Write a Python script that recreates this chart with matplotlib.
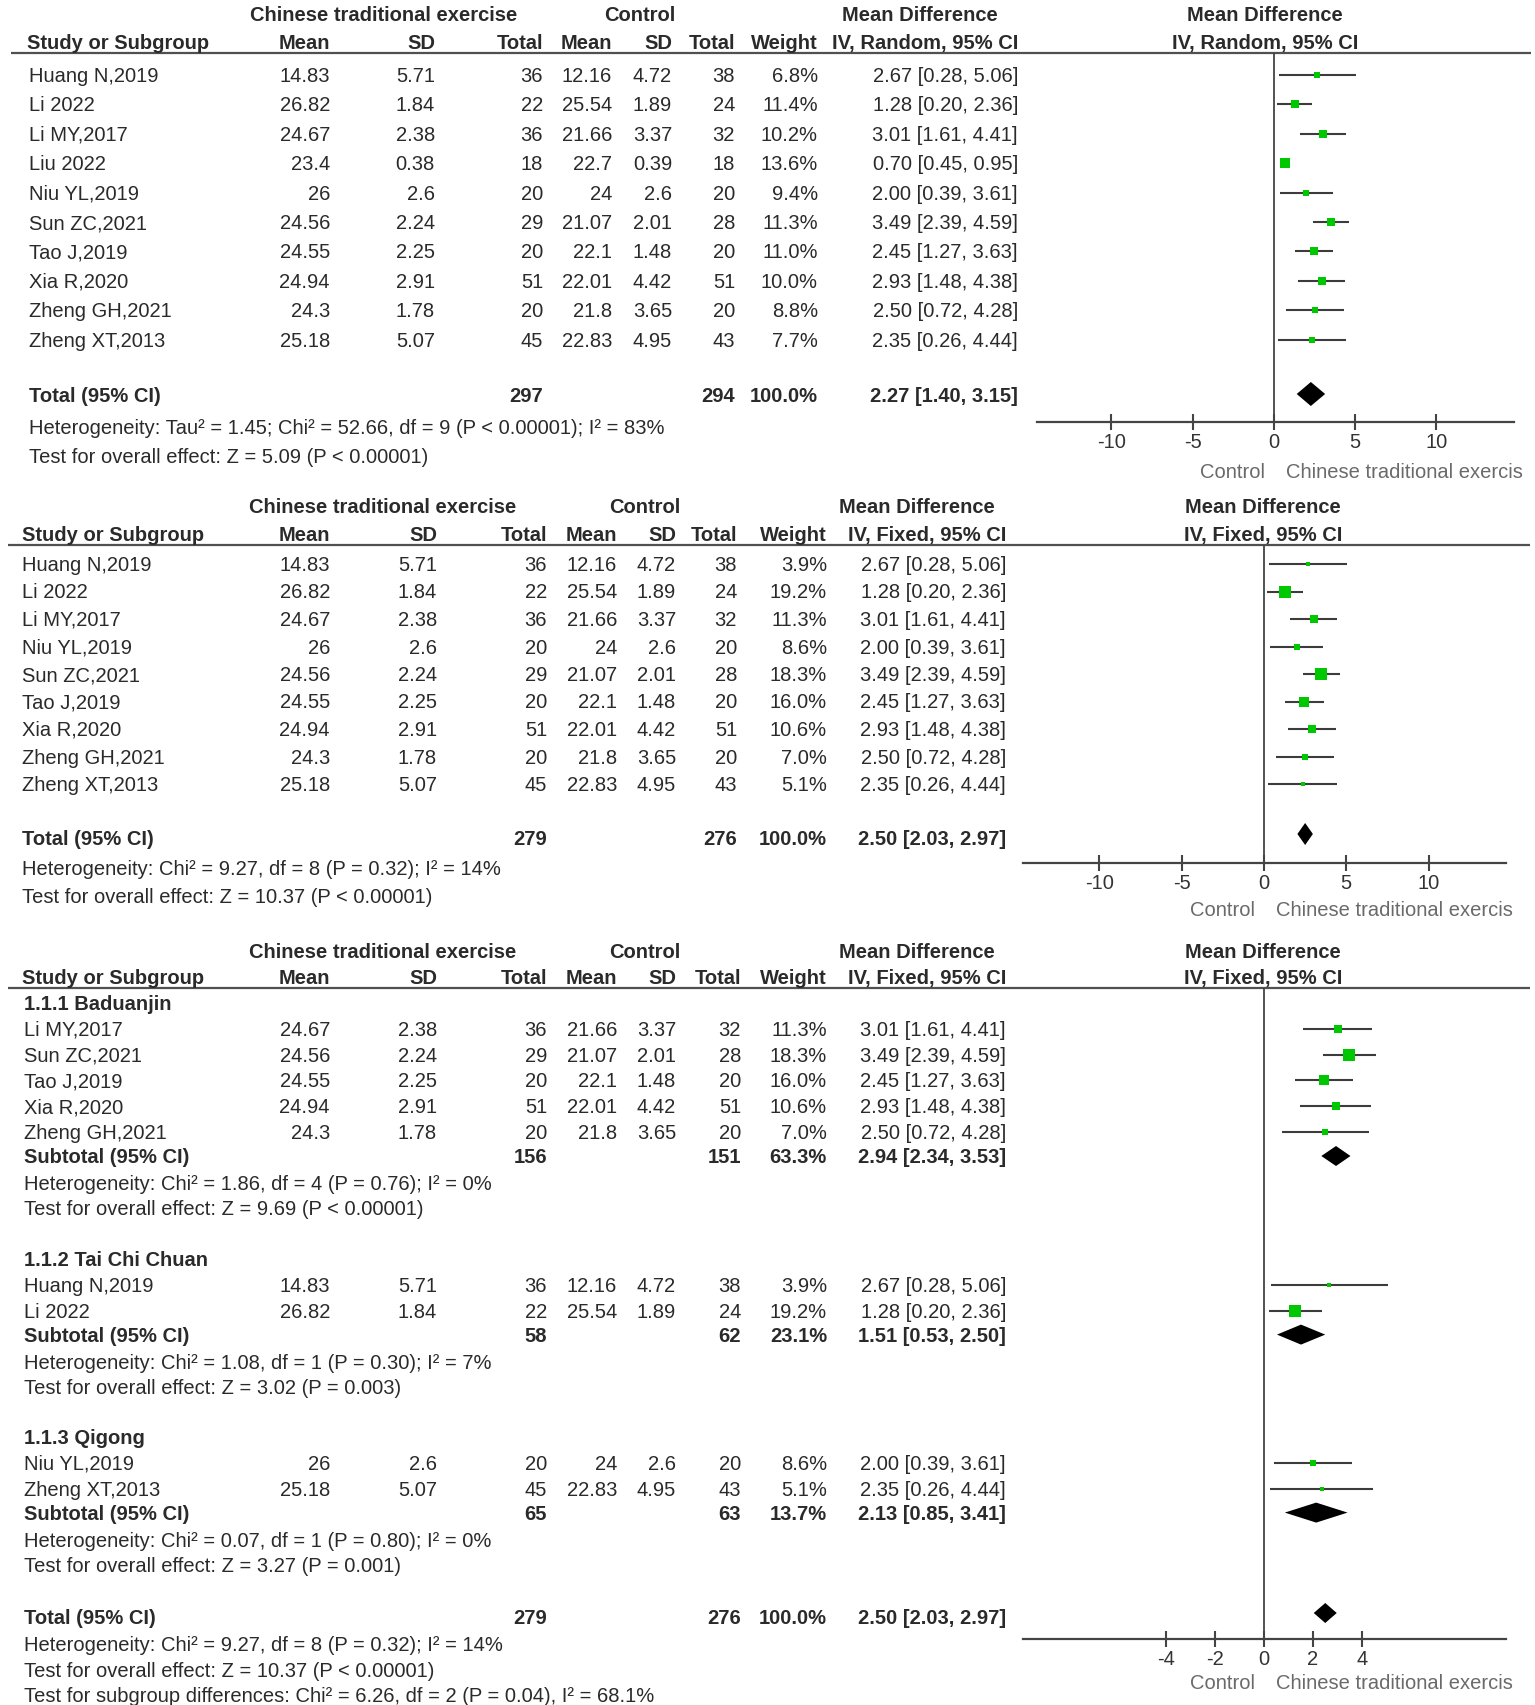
import matplotlib
matplotlib.use("Agg")
import matplotlib.pyplot as plt

plt.rcParams['font.family'] = ['Liberation Sans', 'DejaVu Sans']

# ---------------- data ----------------
studies_all = ["Huang N,2019", "Li 2022", "Li MY,2017", "Liu 2022", "Niu YL,2019",
               "Sun ZC,2021", "Tao J,2019", "Xia R,2020", "Zheng GH,2021", "Zheng XT,2013"]
exp_mean = [14.83, 26.82, 24.67, 23.4, 26, 24.56, 24.55, 24.94, 24.3, 25.18]
exp_sd = [5.71, 1.84, 2.38, 0.38, 2.6, 2.24, 2.25, 2.91, 1.78, 5.07]
exp_n = [36, 22, 36, 18, 20, 29, 20, 51, 20, 45]
ctl_mean = [12.16, 25.54, 21.66, 22.7, 24, 21.07, 22.1, 22.01, 21.8, 22.83]
ctl_sd = [4.72, 1.89, 3.37, 0.39, 2.6, 2.01, 1.48, 4.42, 3.65, 4.95]
ctl_n = [38, 24, 32, 18, 20, 28, 20, 51, 20, 43]
md = [2.67, 1.28, 3.01, 0.70, 2.00, 3.49, 2.45, 2.93, 2.50, 2.35]
md_lo = [0.28, 0.20, 1.61, 0.45, 0.39, 2.39, 1.27, 1.48, 0.72, 0.26]
md_hi = [5.06, 2.36, 4.41, 0.95, 3.61, 4.59, 3.63, 4.38, 4.28, 4.44]
w_random = [6.8, 11.4, 10.2, 13.6, 9.4, 11.3, 11.0, 10.0, 8.8, 7.7]
# fixed-effect weights (Liu 2022 excluded)
w_fixed = {"Huang N,2019": 3.9, "Li 2022": 19.2, "Li MY,2017": 11.3, "Niu YL,2019": 8.6,
           "Sun ZC,2021": 18.3, "Tao J,2019": 16.0, "Xia R,2020": 10.6,
           "Zheng GH,2021": 7.0, "Zheng XT,2013": 5.1}

total1 = dict(n1=297, n2=294, w=100.0, md=2.27, lo=1.40, hi=3.15)
het1 = "Heterogeneity: Tau\u00b2 = 1.45; Chi\u00b2 = 52.66, df = 9 (P < 0.00001); I\u00b2 = 83%"
eff1 = "Test for overall effect: Z = 5.09 (P < 0.00001)"

studies_fixed = ["Huang N,2019", "Li 2022", "Li MY,2017", "Niu YL,2019", "Sun ZC,2021",
                 "Tao J,2019", "Xia R,2020", "Zheng GH,2021", "Zheng XT,2013"]
total2 = dict(n1=279, n2=276, w=100.0, md=2.50, lo=2.03, hi=2.97)
het2 = "Heterogeneity: Chi\u00b2 = 9.27, df = 8 (P = 0.32); I\u00b2 = 14%"
eff2 = "Test for overall effect: Z = 10.37 (P < 0.00001)"

subgroups = ["1.1.1 Baduanjin", "1.1.2 Tai Chi Chuan", "1.1.3 Qigong"]
sub_studies = [["Li MY,2017", "Sun ZC,2021", "Tao J,2019", "Xia R,2020", "Zheng GH,2021"],
               ["Huang N,2019", "Li 2022"],
               ["Niu YL,2019", "Zheng XT,2013"]]
sub_tot = [dict(n1=156, n2=151, w=63.3, md=2.94, lo=2.34, hi=3.53),
           dict(n1=58, n2=62, w=23.1, md=1.51, lo=0.53, hi=2.50),
           dict(n1=65, n2=63, w=13.7, md=2.13, lo=0.85, hi=3.41)]
sub_het = ["Heterogeneity: Chi\u00b2 = 1.86, df = 4 (P = 0.76); I\u00b2 = 0%",
           "Heterogeneity: Chi\u00b2 = 1.08, df = 1 (P = 0.30); I\u00b2 = 7%",
           "Heterogeneity: Chi\u00b2 = 0.07, df = 1 (P = 0.80); I\u00b2 = 0%"]
sub_eff = ["Test for overall effect: Z = 9.69 (P < 0.00001)",
           "Test for overall effect: Z = 3.02 (P = 0.003)",
           "Test for overall effect: Z = 3.27 (P = 0.001)"]
subdiff = "Test for subgroup differences: Chi\u00b2 = 6.26, df = 2 (P = 0.04), I\u00b2 = 68.1%"

ticks_wide = [-10, -5, 0, 5, 10]
ticks_narrow = [-4, -2, 0, 2, 4]
left_label, right_label = "Control", "Chinese traditional exercis"

# ---------------- styles / layout ----------------
W, H = 1535, 1705
fig = plt.figure(figsize=(W / 100, H / 100), dpi=100)
canvas = fig.add_axes([0, 0, 1, 1])
canvas.set_xlim(0, W)
canvas.set_ylim(H, 0)
canvas.axis('off')

FS = 14.5
TXT = '#2a2a2a'
GREEN = '#00c800'
LINE = '#3c3c3c'
CAP = 7  # half cap-height in px, center -> baseline


def t(x, y, s, ha='left', bold=False, color=TXT, size=FS):
    canvas.text(x, y + CAP, s, ha=ha, va='baseline', fontsize=size,
                fontweight='bold' if bold else 'normal', color=color)


def g(v):
    return f"{v:g}"


def ci(d):
    return f"{d['md']:.2f} [{d['lo']:.2f}, {d['hi']:.2f}]"


def header(L, y1, y2, yul, model, ul_x):
    t(L['grp1_c'], y1, "Chinese traditional exercise", ha='center', bold=True)
    t(L['grp2_c'], y1, "Control", ha='center', bold=True)
    t(L['md_c'], y1, "Mean Difference", ha='center', bold=True)
    t(L['forest_c'], y1, "Mean Difference", ha='center', bold=True)
    t(L['hname_x'], y2, "Study or Subgroup", bold=True)
    for key, s in [('mean_r', 'Mean'), ('sd_r', 'SD'), ('tot_r', 'Total'), ('cmean_r', 'Mean'),
                   ('csd_r', 'SD'), ('ctot_r', 'Total'), ('w_r', 'Weight'),
                   ('ci_r', f"IV, {model}, 95% CI")]:
        t(L[key], y2, s, ha='right', bold=True)
    t(L['forest_c'], y2, f"IV, {model}, 95% CI", ha='center', bold=True)
    canvas.plot(ul_x, [yul, yul], color='#505050', lw=1.6, solid_capstyle='butt')


def study_row(L, y, i, weight):
    t(L['name_x'], y, studies_all[i])
    t(L['mean_r'], y, g(exp_mean[i]), ha='right')
    t(L['sd_r'], y, g(exp_sd[i]), ha='right')
    t(L['tot_r'], y, str(exp_n[i]), ha='right')
    t(L['cmean_r'], y, g(ctl_mean[i]), ha='right')
    t(L['csd_r'], y, g(ctl_sd[i]), ha='right')
    t(L['ctot_r'], y, str(ctl_n[i]), ha='right')
    t(L['w_r'], y, f"{weight:.1f}%", ha='right')
    t(L['ci_r'], y, f"{md[i]:.2f} [{md_lo[i]:.2f}, {md_hi[i]:.2f}]", ha='right')


def total_row(L, y, label, d):
    t(L['name_x'], y, label, bold=True)
    t(L['tot_r'], y, str(d['n1']), ha='right', bold=True)
    t(L['ctot_r'], y, str(d['n2']), ha='right', bold=True)
    t(L['w_r'], y, f"{d['w']:.1f}%", ha='right', bold=True)
    t(L['ci_r'], y, ci(d), ha='right', bold=True)


def forest_axes(x0, x1, ytop, yaxis, xlim, ticks, zero_px, lab_y):
    ax = fig.add_axes([x0 / W, 1 - yaxis / H, (x1 - x0) / W, (yaxis - ytop) / H])
    ax.set_xlim(*xlim)
    ax.set_ylim(yaxis, ytop)
    ax.patch.set_alpha(0)
    for s in ['top', 'left', 'right']:
        ax.spines[s].set_visible(False)
    ax.spines['bottom'].set_color('#444444')
    ax.spines['bottom'].set_linewidth(1.6)
    ax.set_yticks([])
    ax.set_xticks(ticks)
    ax.set_xticklabels([g(v) for v in ticks])
    ax.tick_params(axis='x', direction='inout', length=12, width=1.5, color='#444444',
                   labelsize=FS, labelcolor='#333333', pad=2)
    ax.axvline(0, color='#444444', lw=1.3)
    t(zero_px - 9, lab_y, left_label, ha='right', color='#6a6a6a')
    t(zero_px + 12, lab_y, right_label, ha='left', color='#6a6a6a')
    return ax


def square(ax, y, i, weight):
    ax.hlines(y, md_lo[i], md_hi[i], color=LINE, lw=1.5)
    side = 0.55 * weight + 1.6
    ax.plot(md[i], y, 's', ms=side * 0.72, color=GREEN, mec=GREEN, mew=0)


def diamond(ax, y, d, h):
    ax.fill([d['lo'], d['md'], d['hi'], d['md']], [y, y - h, y, y + h],
            color='black', lw=0)


# ---------------- panel 1: random effects ----------------
L1 = dict(name_x=29, hname_x=27, mean_r=330, sd_r=435, tot_r=543, cmean_r=612, csd_r=672,
          ctot_r=735, w_r=818, ci_r=1018, grp1_c=384, grp2_c=640, md_c=920, forest_c=1265)
header(L1, 14, 42, 53, "Random", [11, 1531])
ax1 = forest_axes(1037, 1514, 53, 422, (-14.58, 14.77), ticks_wide, 1274, 471)
for k, name in enumerate(studies_all):
    y = 75 + k * 29.4
    study_row(L1, y, k, w_random[k])
    square(ax1, y, k, w_random[k])
total_row(L1, 395, "Total (95% CI)", total1)
diamond(ax1, 394, total1, 12)
t(29, 427, het1)
t(29, 456, eff1)

# ---------------- panel 2: fixed effects ----------------
L2 = dict(name_x=22, hname_x=22, mean_r=330, sd_r=437, tot_r=547, cmean_r=617, csd_r=676,
          ctot_r=737, w_r=827, ci_r=1006, grp1_c=383, grp2_c=645, md_c=917, forest_c=1263)
header(L2, 506, 534, 545, "Fixed", [8, 1530])
ax2 = forest_axes(1023, 1506, 545, 863, (-14.65, 14.71), ticks_wide, 1264, 909)
for k, name in enumerate(studies_fixed):
    i = studies_all.index(name)
    y = 564 + k * 27.5
    study_row(L2, y, i, w_fixed[name])
    square(ax2, y, i, w_fixed[name])
total_row(L2, 838, "Total (95% CI)", total2)
diamond(ax2, 834, total2, 11)
t(22, 868, het2)
t(22, 896, eff2)

# ---------------- panel 3: subgroups ----------------
L3 = dict(L2, name_x=24, hname_x=22, ctot_r=741)
header(L3, 951, 977, 988, "Fixed", [8, 1530])
ax3 = forest_axes(1023, 1506, 988, 1639, (-9.84, 9.88), ticks_narrow, 1264, 1682)
group_top = [1003, 1259, 1437]
for gi, grp in enumerate(subgroups):
    y0 = group_top[gi]
    t(L3['name_x'], y0, grp, bold=True)
    y = y0
    for name in sub_studies[gi]:
        y += 25.8
        i = studies_all.index(name)
        study_row(L3, y, i, w_fixed[name])
        square(ax3, y, i, w_fixed[name])
    y += 24
    total_row(L3, y, "Subtotal (95% CI)", sub_tot[gi])
    diamond(ax3, y, sub_tot[gi], 10)
    t(L3['name_x'], y + 27, sub_het[gi])
    t(L3['name_x'], y + 52, sub_eff[gi])
total_row(L3, 1617, "Total (95% CI)", total2)
diamond(ax3, 1613, total2, 10)
t(L3['name_x'], 1644, het2)
t(L3['name_x'], 1670, eff2)
t(L3['name_x'], 1695, subdiff)

fig.savefig("out.png", dpi=100)
